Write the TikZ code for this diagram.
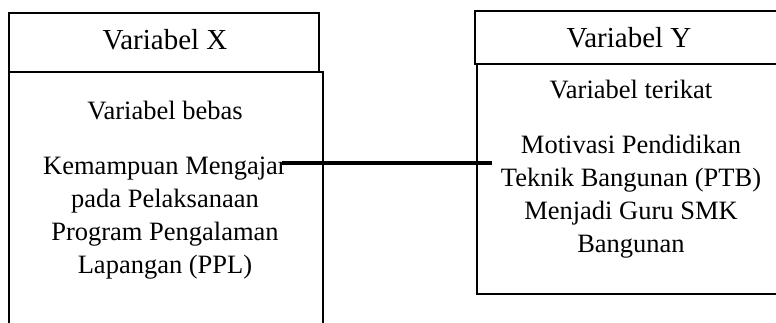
\documentclass[tikz,border=0pt]{standalone}
\usepackage{fontspec}
\setmainfont{Liberation Serif}
\begin{document}
\begin{tikzpicture}[x=1pt,y=-1pt,
  boxline/.style={draw=black,line width=2.4pt,inner sep=0pt},
  headtext/.style={font=\fontsize{29}{33}\selectfont,anchor=base,inner sep=0pt},
  bodytext/.style={font=\fontsize{26.5}{33}\selectfont,anchor=base,inner sep=0pt,align=center},
  link/.style={draw=black,line width=3.4pt}]
\useasboundingbox (0,0) rectangle (776,323);
% left boxes
\node[boxline,minimum width=310pt,minimum height=59pt,anchor=north west] (hx) at (8,12) {};
\node[boxline,minimum width=314pt,minimum height=290pt,anchor=north west] (bx) at (8,71) {};
% right boxes
\node[boxline,minimum width=306pt,minimum height=53pt,anchor=north west] (hy) at (474,10) {};
\node[boxline,minimum width=304pt,minimum height=230pt,anchor=north west] (by) at (476,63) {};
% texts (base anchor = baseline of last line)
\node[headtext] (tx) at (165,50) {Variabel X};
\node[headtext] (ty) at (629,48) {Variabel Y};
\node[bodytext] (bebas) at (165,120) {Variabel bebas};
\node[bodytext] (xdesc) at (165,273) {Kemampuan Mengajar\\pada Pelaksanaan\\Program Pengalaman\\Lapangan (PPL)};
\node[bodytext] (terikat) at (631,99) {Variabel terikat};
\node[bodytext] (ydesc) at (631,252) {Motivasi Pendidikan\\Teknik Bangunan (PTB)\\Menjadi Guru SMK\\Bangunan};
% connector
\coordinate (c1) at (282,163);
\coordinate (c2) at (492,163);
\draw[link] (c1) -- (c2);
\end{tikzpicture}
\end{document}
